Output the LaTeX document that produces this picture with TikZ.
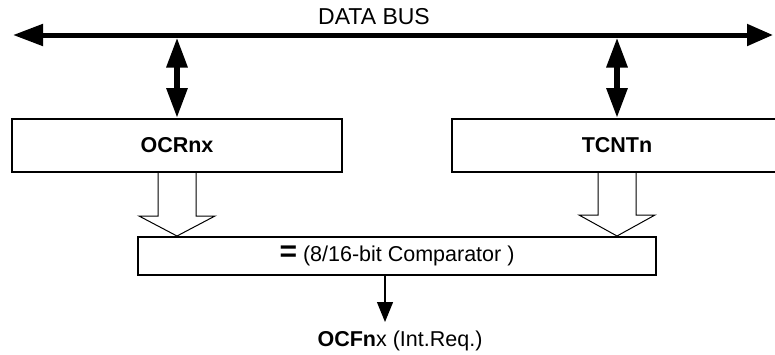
\documentclass[tikz,border=0pt]{standalone}
\usepackage{fontspec}
\setmainfont{Liberation Sans}
\usetikzlibrary{arrows.meta,calc}
\tikzset{
  txt/.style={font=\fontsize{21.5}{24}\selectfont, inner sep=0pt},
  regbox/.style={draw, line width=2pt, minimum width=330pt, minimum height=53pt, inner sep=0pt, font=\fontsize{21.5}{24}\selectfont\bfseries},
  cmpbox/.style={draw, line width=2pt, minimum width=518pt, minimum height=38pt, inner sep=0pt, font=\fontsize{21.5}{24}\selectfont},
  busline/.style={line width=5pt, {Triangle[length=30pt,width=21pt]}-{Triangle[length=26pt,width=21pt]}},
  dblarrow/.style={line width=6pt, {Triangle[length=30pt,width=20pt]}-{Triangle[length=30pt,width=20pt]}},
  hollow/.style={draw, fill=white, line width=1pt, line join=miter},
  outarrow/.style={line width=1.2pt, -{Triangle[length=20pt,width=16pt]}}
}
\begin{document}
\begin{tikzpicture}[x=1pt,y=-1pt]
\clip (0,0) rectangle (775,354);
\fill[white] (0,0) rectangle (775,354);
% bus
\coordinate (busL) at (13,35);
\coordinate (busR) at (773,35);
\draw[busline] (busL) -- (busR);
\node[txt] (bustxt) at (374,16.5) {\fontsize{23}{24}\selectfont DATA BUS};
% registers
\node[regbox] (ocr) at (177,145.5) {OCRnx};
\node[regbox] (tcnt) at (617,145.5) {TCNTn};
% comparator
\node[cmpbox] (cmp) at (397,256) {{\fontsize{30}{30}\selectfont\bfseries =} (8/16-bit Comparator )};
% bus taps
\coordinate (b1) at (177,37.5);
\coordinate (b2) at (617,37.5);
\draw[dblarrow] (b1) -- (ocr.north);
\draw[dblarrow] (b2) -- (tcnt.north);
% hollow arrows
\draw[hollow] let \p1=(ocr.south), \p2=(cmp.north) in
  (\x1-19pt,\y1) -- (\x1-19pt,\y2+20pt) -- (\x1-38pt,\y2+20pt) -- (\x1,\y2)
  -- (\x1+38pt,\y2+20pt) -- (\x1+19pt,\y2+20pt) -- (\x1+19pt,\y1);
\draw[hollow] let \p1=(tcnt.south), \p2=(cmp.north) in
  (\x1-19pt,\y1) -- (\x1-19pt,\y2+21pt) -- (\x1-38pt,\y2+21pt) -- (\x1,\y2)
  -- (\x1+38pt,\y2+21pt) -- (\x1+19pt,\y2+21pt) -- (\x1+19pt,\y1);
% output
\coordinate (otip) at (385,322);
\draw[outarrow] (cmp.south -| otip) -- (otip);
\node[txt] (olabel) at (400,341) {\textbf{OCFn}x (Int.Req.)};
\end{tikzpicture}
\end{document}
